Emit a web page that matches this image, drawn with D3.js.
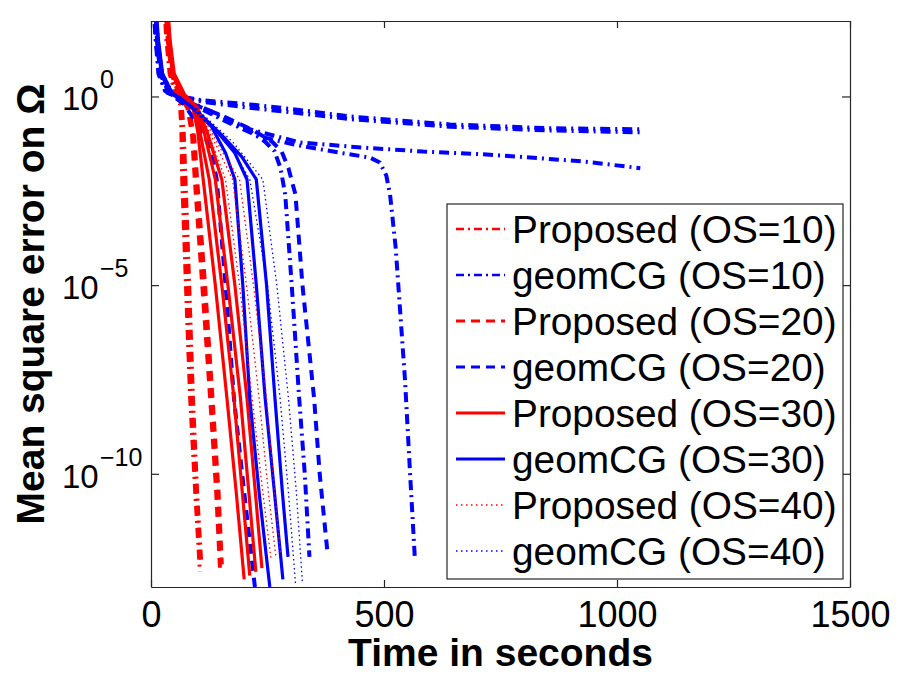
<!DOCTYPE html>
<html>
<head>
<meta charset="utf-8">
<script src="https://cdn.jsdelivr.net/npm/d3@7"></script>
<style>
  body { margin: 0; background: #fff; }
  text { font-family: "Liberation Sans", Arial, Helvetica, sans-serif; fill: #000; }
</style>
</head>
<body>
<div id="chart"></div>
<script>
// each run is a list of [time in seconds, log10(mean square error)]
const proposedOS10 = [
    [[28,2.5],[33,1.5],[40,0.6],[52,0.1],[62,-0.2],[65,-0.8],[67,-2.2],[75,-5],[84,-8],[95,-10.5],[105,-12.6]],
    [[30,2.5],[35,1.5],[42,0.6],[55,0.1],[66,-0.25],[70,-0.9],[74,-2.2],[82,-5],[90,-8],[99,-10.5],[108,-12.4]]
];
const geomOS10 = [
    [[5,2.5],[10,1.5],[16,0.6],[30,0.15],[60,0],[110,-0.1],[212,-0.21],[300,-0.33],[427,-0.53],[641,-0.74],[850,-0.84],[1050,-0.87]],
    [[6,2.5],[11,1.5],[17,0.6],[32,0.15],[65,0],[115,-0.15],[212,-0.3],[300,-0.42],[427,-0.6],[641,-0.8],[850,-0.9],[1050,-0.95]],
    [[6,2.5],[11,1.5],[18,0.6],[35,0.1],[75,-0.1],[140,-0.45],[212,-0.87],[320,-1.22],[450,-1.35],[584,-1.46],[713,-1.53],[927,-1.72],[1050,-1.9]],
    [[6,2.5],[11,1.5],[18,0.6],[36,0.1],[80,-0.15],[150,-0.6],[230,-1.05],[305,-1.27],[400,-1.48],[470,-1.62],[491,-1.75],[505,-2.1],[513,-2.6],[525,-4],[545,-7.5],[556,-10],[566,-12.2]],
    [[7,2.5],[12,1.5],[19,0.6],[38,0.1],[85,-0.2],[150,-0.55],[210,-0.9],[245,-1.2],[265,-1.45],[278,-1.9],[288,-2.6],[302,-5],[318,-8],[330,-10],[340,-12.2]]
];
const proposedOS20 = [
    [[30,2.5],[36,1.5],[44,0.6],[60,0.05],[78,-0.3],[88,-1],[94,-2.2],[110,-5],[127,-8],[140,-10.5],[148,-12.5]],
    [[32,2.5],[38,1.5],[46,0.6],[62,0.05],[82,-0.35],[93,-1.1],[99,-2.2],[116,-5],[132,-8],[145,-10.5],[152,-12.4]]
];
const geomOS20 = [
    [[8,2.5],[13,1.5],[20,0.6],[38,0.1],[70,-0.2],[110,-0.9],[130,-1.5],[141,-2.2],[160,-5],[178,-8],[200,-10.5],[223,-13]],
    [[8,2.5],[13,1.5],[20,0.6],[40,0.1],[90,-0.2],[160,-0.55],[220,-0.9],[260,-1.2],[280,-1.45],[295,-1.9],[310,-2.6],[325,-5],[350,-8],[362,-10],[378,-12]]
];
const proposedOS30 = [
    [[32,2.5],[38,1.5],[46,0.6],[65,0.05],[88,-0.2],[100,-0.9],[112,-2.2],[138,-5],[163,-8],[183,-10.5],[200,-12.8]],
    [[33,2.5],[39,1.5],[47,0.6],[67,0.05],[92,-0.25],[106,-1],[125,-2.2],[152,-5],[178,-8],[196,-10.5],[212,-12.7]],
    [[34,2.5],[40,1.5],[48,0.6],[70,0.05],[96,-0.3],[115,-1],[138,-2.2],[165,-5],[192,-8],[210,-10.5],[225,-12.6]],
    [[35,2.5],[41,1.5],[50,0.6],[72,0.05],[100,-0.3],[122,-1],[152,-2.2],[180,-5],[206,-8],[224,-10.5],[238,-12.5]]
];
const geomOS30 = [
    [[8,2.5],[14,1.5],[22,0.6],[40,0.1],[80,-0.2],[130,-0.8],[160,-1.5],[180,-2.2],[197,-5],[212,-8],[232,-10.5],[255,-13]],
    [[9,2.5],[15,1.5],[24,0.6],[42,0.1],[85,-0.25],[140,-0.9],[180,-1.5],[206,-2.2],[226,-5],[245,-8],[265,-10.5],[283,-12.8]],
    [[10,2.5],[16,1.5],[25,0.6],[45,0.1],[90,-0.3],[150,-1],[195,-1.6],[226,-2.2],[248,-5],[266,-8],[282,-10.5],[294,-12.2]]
];
const proposedOS40 = [
    [[30,2.5],[36,1.5],[44,0.6],[65,0.05],[95,-0.3],[130,-1.2],[160,-2.2],[190,-5],[217,-8],[240,-10.5],[258,-12.3]],
    [[31,2.5],[37,1.5],[45,0.6],[68,0.05],[100,-0.35],[140,-1.3],[175,-2.2],[205,-5],[232,-8],[252,-10.5],[268,-12.2]],
    [[32,2.5],[38,1.5],[46,0.6],[70,0.05],[105,-0.4],[150,-1.4],[190,-2.2],[220,-5],[248,-8],[265,-10.5],[278,-12.1]]
];
const geomOS40 = [
    [[10,2.5],[16,1.5],[25,0.6],[45,0.1],[95,-0.3],[160,-1.1],[212,-2.2],[250,-5],[277,-8],[295,-10.5],[310,-12.9]],
    [[11,2.5],[17,1.5],[27,0.6],[48,0.1],[100,-0.35],[175,-1.2],[240,-2.2],[270,-5],[295,-8],[312,-10.5],[325,-12.9]]
];

const seriesNames = ["Proposed (OS=10)", "geomCG (OS=10)", "Proposed (OS=20)", "geomCG (OS=20)",
                     "Proposed (OS=30)", "geomCG (OS=30)", "Proposed (OS=40)", "geomCG (OS=40)"];
const seriesRuns = [proposedOS10, geomOS10, proposedOS20, geomOS20, proposedOS30, geomOS30, proposedOS40, geomOS40];

const xTicks = [0, 500, 1000, 1500];
const yTicks = [1e-10, 1e-5, 1e0];
const yTickExp = ["\u221210", "\u22125", "0"];

// line styles, one per OS value
const styles = {
    10: { dash: "10,5,2,5", width: 4, legendWidth: 2.5, legendDash: "8,4,2,4" },
    20: { dash: "10,7", width: 4, legendWidth: 3, legendDash: "9,6" },
    30: { dash: null, width: 3.2, legendWidth: 3.2, legendDash: null },
    40: { dash: "1.5,3", width: 1.3, legendWidth: 1.5, legendDash: "1.5,3.5" }
};

const width = 900, height = 675;
const margin = { top: 21, right: 50, bottom: 88, left: 151 };
const plotW = width - margin.left - margin.right;
const plotH = height - margin.top - margin.bottom;

const svg = d3.select("#chart").append("svg")
    .attr("width", width)
    .attr("height", height);

const x = d3.scaleLinear().domain([0, 1500]).range([margin.left, margin.left + plotW]);
const y = d3.scaleLog().domain([1e-13, 1e2]).range([margin.top + plotH, margin.top]);

svg.append("clipPath").attr("id", "plotClip")
    .append("rect")
    .attr("x", margin.left).attr("y", margin.top)
    .attr("width", plotW).attr("height", plotH);

const line = d3.line()
    .x(d => x(d[0]))
    .y(d => y(Math.pow(10, d[1])));

const plot = svg.append("g").attr("clip-path", "url(#plotClip)");

seriesRuns.forEach((runs, i) => {
    const os = (Math.floor(i / 2) + 1) * 10;
    const st = styles[os];
    const color = i % 2 === 0 ? "#ff0000" : "#0000ff";
    plot.selectAll(null)
        .data(runs)
        .enter().append("path")
        .attr("d", line)
        .attr("fill", "none")
        .attr("stroke", color)
        .attr("stroke-width", st.width)
        .attr("stroke-dasharray", st.dash)
        .attr("stroke-linejoin", "round");
});

// axes, matlab style: ticks inside on all four sides
const axisColor = "#262626";
const xAxis = d3.axisBottom(x).tickValues(xTicks).tickSizeInner(-7).tickSizeOuter(0)
    .tickPadding(14).tickFormat(d3.format("d"));
const gx = svg.append("g")
    .attr("transform", "translate(0," + (margin.top + plotH) + ")")
    .call(xAxis);
gx.selectAll("text").attr("font-size", 36).attr("font-family", "Liberation Sans, Arial, sans-serif");

const xTop = d3.axisTop(x).tickValues(xTicks).tickSizeInner(-7).tickSizeOuter(0).tickFormat("");
const gxt = svg.append("g")
    .attr("transform", "translate(0," + margin.top + ")")
    .call(xTop);

const yAxis = d3.axisLeft(y).tickValues(yTicks).tickSizeInner(-8).tickSizeOuter(0).tickFormat("");
const gy = svg.append("g")
    .attr("transform", "translate(" + margin.left + ",0)")
    .call(yAxis);

const yRight = d3.axisRight(y).tickValues(yTicks).tickSizeInner(-8).tickSizeOuter(0).tickFormat("");
const gyr = svg.append("g")
    .attr("transform", "translate(" + (margin.left + plotW) + ",0)")
    .call(yRight);

[gx, gxt, gy, gyr].forEach(g => {
    g.select(".domain").attr("stroke", axisColor).attr("stroke-width", 1.2);
    g.selectAll(".tick line").attr("stroke", axisColor).attr("stroke-width", 1.2);
});

// y tick labels as 10 with superscript exponent
yTicks.forEach((v, i) => {
    svg.append("text")
        .attr("x", 62).attr("y", y(v) + 14)
        .attr("font-size", 33)
        .text("10");
    svg.append("text")
        .attr("x", 100).attr("y", y(v) - 8)
        .attr("font-size", 25)
        .text(yTickExp[i]);
});

// axis titles
svg.append("text")
    .attr("x", margin.left + plotW / 2)
    .attr("y", 666)
    .attr("text-anchor", "middle")
    .attr("font-size", 39)
    .attr("font-weight", "bold")
    .text("Time in seconds");

svg.append("text")
    .attr("transform", "translate(44," + (margin.top + plotH / 2) + ") rotate(-90)")
    .attr("text-anchor", "middle")
    .attr("font-size", 39)
    .attr("font-weight", "bold")
    .text("Mean square error on \u03A9");

// legend
const legend = svg.append("g");
legend.append("rect")
    .attr("x", 447).attr("y", 204)
    .attr("width", 396).attr("height", 375)
    .attr("fill", "#fff")
    .attr("stroke", axisColor)
    .attr("stroke-width", 1.2);

const rowY = d3.scaleLinear().domain([0, 7]).range([243, 565]);

seriesNames.forEach((name, i) => {
    const os = (Math.floor(i / 2) + 1) * 10;
    const st = styles[os];
    const color = i % 2 === 0 ? "#ff0000" : "#0000ff";
    const by = rowY(i);
    legend.append("line")
        .attr("x1", 456).attr("x2", 505)
        .attr("y1", by - 14).attr("y2", by - 14)
        .attr("stroke", color)
        .attr("stroke-width", st.legendWidth)
        .attr("stroke-dasharray", st.legendDash);
    legend.append("text")
        .attr("x", 512).attr("y", by)
        .attr("font-size", 38.8)
        .text(name);
});
</script>
</body>
</html>
